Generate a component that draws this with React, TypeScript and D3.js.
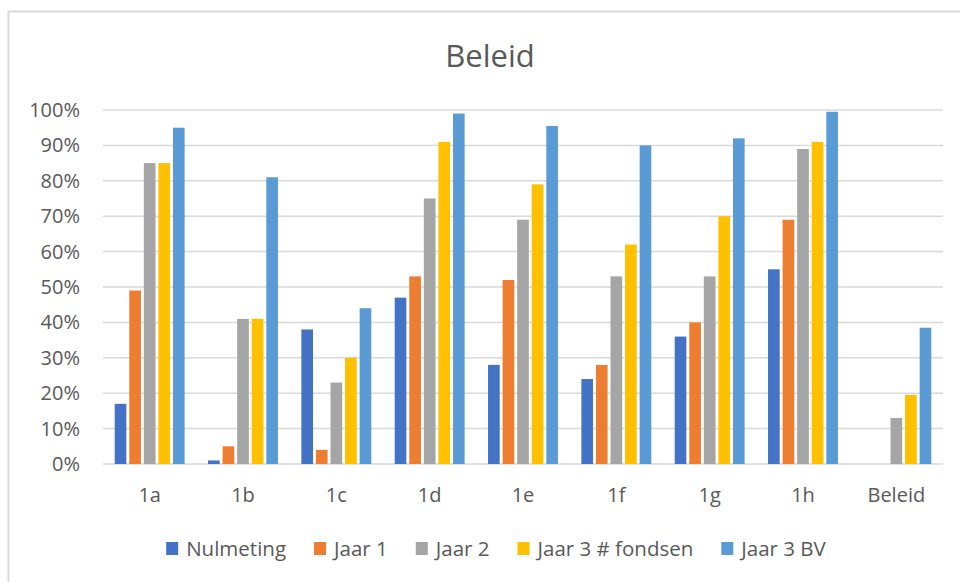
import React, { useEffect, useRef } from "react";
import * as d3 from "d3";

const categories = ["1a", "1b", "1c", "1d", "1e", "1f", "1g", "1h", "Beleid"];
const seriesNames = ["Nulmeting", "Jaar 1", "Jaar 2", "Jaar 3 # fondsen", "Jaar 3 BV"];
const colors = ["#4472C4", "#ED7D31", "#A5A5A5", "#FFC000", "#5B9BD5"];

// values in percent, one array per series (null = no bar)
const nulmeting = [17, 1, 38, 47, 28, 24, 36, 55, null];
const jaar1 = [49, 5, 4, 53, 52, 28, 40, 69, null];
const jaar2 = [85, 41, 23, 75, 69, 53, 53, 89, 13];
const jaar3Fondsen = [85, 41, 30, 91, 79, 62, 70, 91, 19.5];
const jaar3BV = [95, 81, 44, 99, 95.5, 90, 92, 99.5, 38.5];

const yTicks = [0, 10, 20, 30, 40, 50, 60, 70, 80, 90, 100];

const W = 960;
const H = 582;
const FONT = "'Open Sans', 'Noto Sans', sans-serif";
const TEXT = "#595959";

export default function App() {
  const ref = useRef<SVGSVGElement>(null);

  useEffect(() => {
    const svg = d3.select(ref.current);
    svg.selectAll("*").remove();

    const allSeries = [nulmeting, jaar1, jaar2, jaar3Fondsen, jaar3BV];
    const margin = { top: 110, right: 17, bottom: 118, left: 103 };

    // chart area border
    svg.append("rect")
      .attr("x", 8.5).attr("y", 11.5)
      .attr("width", W + 20).attr("height", H + 20)
      .attr("fill", "white")
      .attr("stroke", "#D9D9D9")
      .attr("stroke-width", 2);

    svg.append("text")
      .attr("x", 490).attr("y", 67)
      .attr("text-anchor", "middle")
      .attr("font-family", FONT)
      .attr("font-size", 31)
      .attr("fill", TEXT)
      .text("Beleid");

    const x0 = d3.scaleBand<string>()
      .domain(categories)
      .range([margin.left, W - margin.right]);

    const x1 = d3.scaleBand<string>()
      .domain(seriesNames)
      .range([11.7, x0.bandwidth() - 11.7])
      .paddingInner(0.2);

    const y = d3.scaleLinear()
      .domain([0, 100])
      .range([H - margin.bottom, margin.top]);

    // grid
    svg.append("g")
      .selectAll("line")
      .data(yTicks)
      .join("line")
      .attr("x1", margin.left)
      .attr("x2", W - margin.right)
      .attr("y1", d => y(d))
      .attr("y2", d => y(d))
      .attr("stroke", "#D9D9D9")
      .attr("stroke-width", 1.5);

    // y labels
    svg.append("g")
      .selectAll("text")
      .data(yTicks)
      .join("text")
      .attr("x", 80)
      .attr("y", d => y(d) + 7)
      .attr("text-anchor", "end")
      .attr("font-family", FONT)
      .attr("font-size", 20)
      .attr("fill", TEXT)
      .text(d => d + "%");

    // bars
    const groups = svg.append("g")
      .selectAll("g")
      .data(categories)
      .join("g")
      .attr("transform", d => `translate(${x0(d)},0)`);

    groups.selectAll("rect")
      .data((_, i) => seriesNames.map((s, j) => ({ s, v: allSeries[j][i], c: colors[j] })).filter(d => d.v != null))
      .join("rect")
      .attr("x", d => x1(d.s)!)
      .attr("width", x1.bandwidth())
      .attr("y", d => y(d.v as number))
      .attr("height", d => y(0) - y(d.v as number))
      .attr("fill", d => d.c);

    // x labels
    svg.append("g")
      .selectAll("text")
      .data(categories)
      .join("text")
      .attr("x", d => x0(d)! + x0.bandwidth() / 2)
      .attr("y", 502)
      .attr("text-anchor", "middle")
      .attr("font-family", FONT)
      .attr("font-size", 20)
      .attr("fill", TEXT)
      .text(d => d);

    // legend
    const legend = svg.append("g");
    const items = legend.selectAll("g")
      .data(seriesNames)
      .join("g");
    items.append("rect")
      .attr("width", 12).attr("height", 13)
      .attr("y", -14)
      .attr("fill", (_, i) => colors[i]);
    items.append("text")
      .attr("x", 20)
      .attr("font-family", FONT)
      .attr("font-size", 20.5)
      .attr("fill", TEXT)
      .text(d => d);

    let pos = 0;
    const offsets: number[] = [];
    items.each(function () {
      offsets.push(pos);
      const t = d3.select(this).select("text").node() as SVGTextElement;
      pos += 20 + t.getComputedTextLength() + 28;
    });
    const total = pos - 28;
    const startX = 496 - total / 2;
    items.attr("transform", (_, i) => `translate(${startX + offsets[i]},556)`);
  }, []);

  return (
    <svg
      ref={ref}
      width={W}
      height={H}
      style={{ position: "absolute", left: 0, top: 0, display: "block", background: "white" }}
    />
  );
}
